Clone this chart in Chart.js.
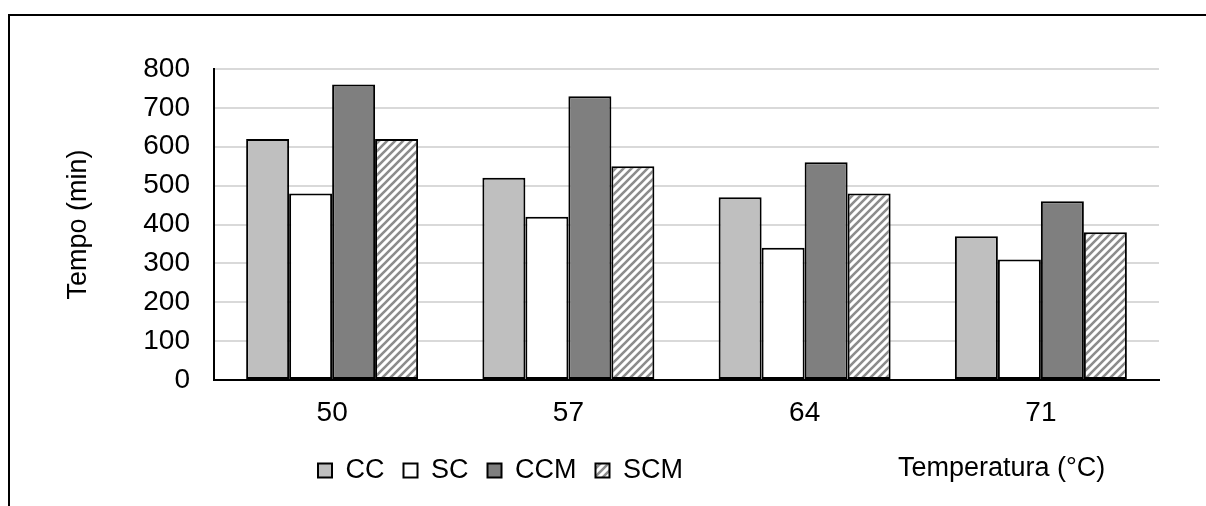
<!DOCTYPE html>
<html>
<head>
<meta charset="utf-8">
<script src="https://cdn.jsdelivr.net/npm/chart.js@4.4.0/dist/chart.umd.min.js"></script>
<style>
  html, body { margin: 0; padding: 0; background: #fff; }
  #wrap { width: 1206px; height: 506px; }
</style>
</head>
<body>
<div id="wrap"><canvas id="tempoChart"></canvas></div>
<script>
const temperatures = ['50', '57', '64', '71'];
const ccValues = [620, 520, 470, 370];
const scValues = [480, 420, 340, 310];
const ccmValues = [760, 730, 560, 460];
const scmValues = [620, 550, 480, 380];
const yMin = 0, yMax = 800, yStep = 100;

const FONT = "'Liberation Sans', Arial, sans-serif";
const canvas = document.getElementById('tempoChart');
const ctx = canvas.getContext('2d');

// white tile with grey upward diagonal stripes
function hatchPattern() {
  const tile = document.createElement('canvas');
  tile.width = 8; tile.height = 8;
  const t = tile.getContext('2d');
  t.fillStyle = '#ffffff';
  t.fillRect(0, 0, 8, 8);
  t.strokeStyle = '#8c8c8c';
  t.lineWidth = 2.6;
  t.beginPath();
  t.moveTo(-2, 2); t.lineTo(2, -2);
  t.moveTo(-1, 9); t.lineTo(9, -1);
  t.moveTo(6, 10); t.lineTo(10, 6);
  t.stroke();
  return ctx.createPattern(tile, 'repeat');
}

const framePlugin = {
  id: 'frame',
  beforeDraw(chart) {
    const c = chart.ctx;
    c.save();
    c.fillStyle = '#fff';
    c.fillRect(0, 0, chart.width, chart.height);
    c.strokeStyle = '#000';
    c.lineWidth = 2;
    c.beginPath();
    c.moveTo(9, chart.height);
    c.lineTo(9, 15);
    c.lineTo(chart.width, 15);
    c.stroke();
    c.restore();
  },
  afterLayout(chart) {
    // move the legend row left of centre
    const lg = chart.legend;
    const shift = 299 - lg.left;
    lg.left += shift;
    lg.right += shift;
  },
  afterDraw(chart) {
    const c = chart.ctx;
    c.save();
    c.font = '27px ' + FONT;
    c.fillStyle = '#000';
    c.textAlign = 'left';
    c.textBaseline = 'middle';
    c.fillText('Temperatura (°C)', 898, 469);
    c.restore();
  }
};

const barStyle = { borderColor: '#000', borderWidth: 2, borderSkipped: false };

new Chart(ctx, {
  type: 'bar',
  data: {
    labels: temperatures,
    datasets: [
      { label: 'CC', data: ccValues, backgroundColor: '#bfbfbf', ...barStyle },
      { label: 'SC', data: scValues, backgroundColor: '#ffffff', ...barStyle },
      { label: 'CCM', data: ccmValues, backgroundColor: '#7f7f7f', ...barStyle },
      { label: 'SCM', data: scmValues, backgroundColor: hatchPattern(), ...barStyle }
    ]
  },
  options: {
    responsive: true,
    maintainAspectRatio: false,
    animation: false,
    devicePixelRatio: 1,
    categoryPercentage: 0.728,
    barPercentage: 1,
    layout: { padding: { left: 62, top: 69, right: 47, bottom: 12 } },
    scales: {
      x: {
        grid: { display: false, drawTicks: false },
        border: { display: true, color: '#000', width: 2 },
        ticks: { color: '#000', font: { family: FONT, size: 28 }, padding: 16 },
        afterFit(scale) { scale.height = 58; }
      },
      y: {
        min: yMin,
        max: yMax,
        grid: {
          drawTicks: false,
          lineWidth: 2,
          color: c => (c.tick && c.tick.value === 0) ? 'rgba(0,0,0,0)' : '#d9d9d9'
        },
        border: { display: true, color: '#000', width: 2 },
        ticks: { stepSize: yStep, color: '#000', font: { family: FONT, size: 28 }, padding: 24 },
        title: {
          display: true,
          text: 'Tempo (min)',
          color: '#000',
          font: { family: FONT, size: 27 },
          padding: 0
        },
        afterFit(scale) { scale.width = 152; }
      }
    },
    plugins: {
      legend: {
        position: 'bottom',
        align: 'start',
        labels: {
          boxWidth: 14,
          boxHeight: 14,
          padding: 19,
          color: '#000',
          font: { family: FONT, size: 27 }
        }
      },
      tooltip: { enabled: false }
    }
  },
  plugins: [framePlugin]
});
</script>
</body>
</html>
